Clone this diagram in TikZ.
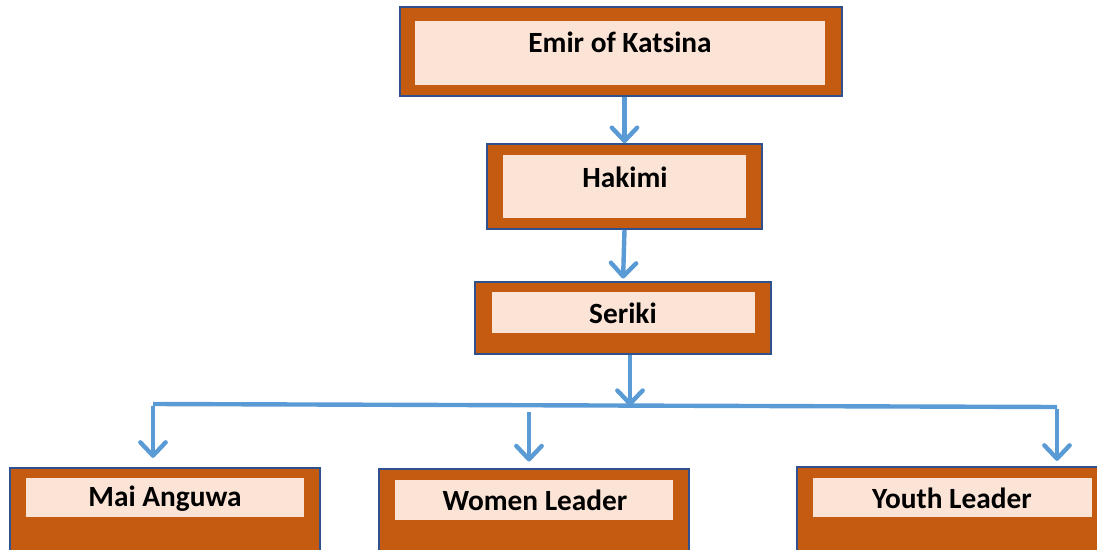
\documentclass[tikz,border=0pt]{standalone}
\usepackage{fontspec}
\setmainfont{Carlito}
\definecolor{chartorange}{RGB}{197,90,17}
\definecolor{chartpeach}{RGB}{251,227,214}
\definecolor{chartedge}{RGB}{47,82,143}
\definecolor{chartlink}{RGB}{91,155,213}
\usetikzlibrary{arrows.meta,positioning,calc,fit}
\tikzset{
  outerbox/.style={draw=chartedge, line width=1.2pt, fill=chartorange, inner sep=0pt},
  innerbox/.style={fill=chartpeach, inner sep=0pt},
  rolelabel/.style={font=\bfseries\fontsize{22}{24}\selectfont, inner sep=0pt},
  linkline/.style={chartlink, line width=3.3pt},
  link/.style={linkline, -{Straight Barb[length=10pt,width=19pt,round]}}
}
\begin{document}
\begin{tikzpicture}[x=0.75pt, y=-0.75pt]
    \useasboundingbox (0,0) rectangle (1097,550);
    % Top: Emir
    \node[outerbox, fit={(400,7) (842,96)}] (emir) {};
    \node[innerbox, fit={(415,21) (825,85)}] (emirin) {};
    \node[rolelabel] (emirtxt) at (620,42) {Emir of Katsina};

    % Hakimi
    \node[outerbox, fit={(487,144) (762,229)}] (hakimi) {};
    \node[innerbox, fit={(503,155) (746,218)}] (hakimiin) {};
    \node[rolelabel] (hakimitxt) at (625,177) {Hakimi};

    % Seriki
    \node[outerbox, fit={(475,282) (771,354)}] (seriki) {};
    \node[innerbox, fit={(492,292) (755,333)}] (serikiin) {};
    \node[rolelabel] (serikitxt) at (623,313) {Seriki};

    % Bottom row
    \node[outerbox, fit={(10,468) (320,553)}] (mai) {};
    \node[innerbox, fit={(26,478) (304,517)}] (maiin) {};
    \node[rolelabel] (maitxt) at (165,499) {Mai Anguwa};

    \node[outerbox, fit={(379,469) (689,553)}] (women) {};
    \node[innerbox, fit={(395,480) (673,520)}] (womenin) {};
    \node[rolelabel] (womentxt) at (535,500) {Women Leader};

    \node[outerbox, fit={(797,467) (1100,553)}] (youth) {};
    \node[innerbox, fit={(813,478) (1092,517)}] (youthin) {};
    \node[rolelabel] (youthtxt) at (952,498) {Youth Leader};

    % Connecting lines
    \coordinate (barmid) at (630,406);
    \coordinate (barL) at (153,404);
    \coordinate (barW) at (529,412);
    \coordinate (barR) at (1057,407);
    \draw[link] (emir.south -| hakimi.north) -- (hakimi.north);
    \draw[link, shorten >=2pt] (hakimi.south) -- (seriki.north);
    \draw[link] (seriki.south -| barmid) -- (barmid);
    \draw[linkline] (barL) -- (barR);
    \draw[link, shorten >=7pt] ([yshift=-1.2pt]barL) -- (barL |- mai.north);
    \draw[link, shorten >=5pt] (barW) -- (barW |- women.north);
    \draw[link, shorten >=4pt] ([yshift=-1.2pt]barR) -- (barR |- youth.north);
\end{tikzpicture}
\end{document}
